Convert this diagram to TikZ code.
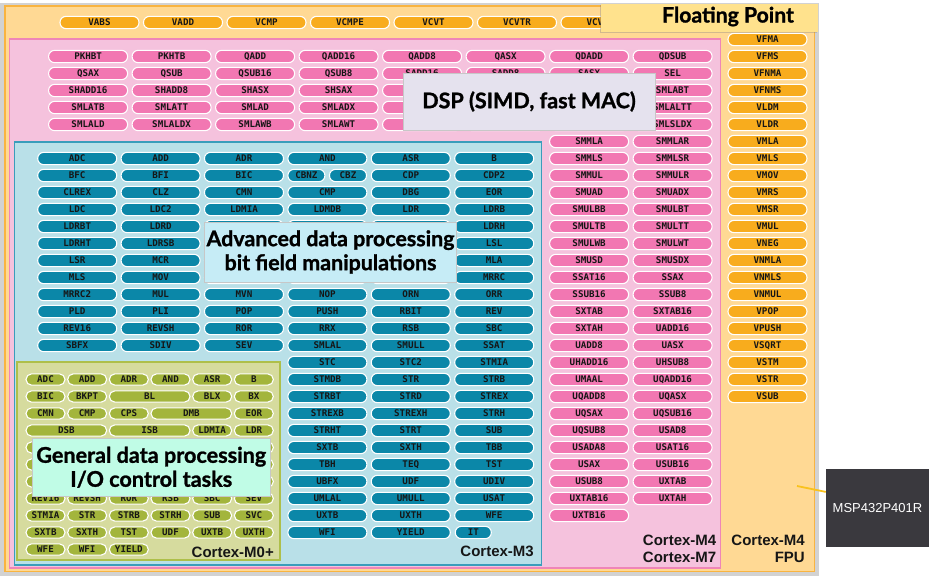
\documentclass[tikz,border=0pt]{standalone}
\usepackage{fontspec}
\setmainfont{Liberation Sans}
\newfontfamily\pillfont{DejaVu Sans Mono}
\newfontfamily\gillfont{Lato}[BoldFeatures={FakeBold=1.2}]
\usetikzlibrary{shadows}
\definecolor{framegray}{HTML}{D2D2D2}
\definecolor{fplight}{HTML}{FFD994}
\definecolor{fpline}{HTML}{F9B440}
\definecolor{opill}{HTML}{F8AC1D}
\definecolor{pinkfill}{HTML}{F5C2DD}
\definecolor{pinkline}{HTML}{EF85B7}
\definecolor{ppill}{HTML}{F277B2}
\definecolor{bluefill}{HTML}{B9E0E8}
\definecolor{blueline}{HTML}{3A9DBB}
\definecolor{bpill}{HTML}{0B87A8}
\definecolor{greenfill}{HTML}{D6DB9E}
\definecolor{greenline}{HTML}{AEBF4A}
\definecolor{gpill}{HTML}{A3B53C}
\definecolor{dspbox}{HTML}{E5E2EE}
\definecolor{advbox}{HTML}{C6ECF6}
\definecolor{genbox}{HTML}{C0FCE6}
\definecolor{fpbox}{HTML}{FFE28D}
\definecolor{mspbox}{HTML}{3A393E}
\definecolor{connc}{HTML}{F9C21E}
\definecolor{pilltext}{HTML}{161616}
\tikzset{
  pill/.style={draw=white, line width=1.1pt, rounded corners=6pt, minimum width=79pt,
    minimum height=12.3pt, inner sep=0pt, text height=6.6pt, text depth=0pt,
    font=\pillfont\bfseries\fontsize{9.2}{9.2}\selectfont, text=pilltext},
  opillst/.style={pill, fill=opill},
  ppillst/.style={pill, fill=ppill},
  bpillst/.style={pill, fill=bpill},
  gpillst/.style={pill, fill=gpill, minimum width=39pt, minimum height=11.3pt, rounded corners=5.6pt},
  regionst/.style={line width=1.5pt},
  labelbox/.style={draw=black!22, line width=0.6pt, inner sep=0pt, align=center,
    font=\gillfont\bfseries, text=black},
  cortexst/.style={font=\bfseries\fontsize{15}{18}\selectfont, inner sep=0pt, text=pilltext},
}
\begin{document}
\begin{tikzpicture}[x=1pt,y=-1pt]
\useasboundingbox (0,0) rectangle (930,576);
% outer frame and floating point region
\fill[framegray] (0,3) rectangle (818.5,576);
\draw[regionst, draw=fpline, fill=fplight] (5,6) rectangle (814.5,571.5);
% DSP region
\draw[regionst, draw=pinkline, fill=pinkfill] (9.5,39) rectangle (720.5,568);
% Cortex-M3 region
\draw[regionst, draw=blueline, fill=bluefill] (14.5,142) rectangle (541.5,565);
% Cortex-M0+ region
\draw[regionst, draw=greenline, fill=greenfill] (17,362) rectangle (280,560);

% top row of FP instructions
\foreach \lab [count=\c from 0] in {VABS,VADD,VCMP,VCMPE,VCVT,VCVTR,VCVTT}
  \node[opillst] (fpt-\c) at ({99.5+83.5*\c},22.5) {\lab};
% FP column
\foreach \lab [count=\k from 0] in {VFMA,VFMS,VFNMA,VFNMS,VLDM,VLDR,VMLA,VMLS,VMOV,VMRS,VMSR,VMUL,VNEG,VNMLA,VNMLS,VNMUL,VPOP,VPUSH,VSQRT,VSTM,VSTR,VSUB}
  \node[opillst] (fpc-\k) at (767.5,{39.5+17*\k}) {\lab};

% DSP block
\foreach \lst [count=\r from 0] in {
  {PKHBT,PKHTB,QADD,QADD16,QADD8,QASX,QDADD,QDSUB},
  {QSAX,QSUB,QSUB16,QSUB8,SADD16,SADD8,SASX,SEL},
  {SHADD16,SHADD8,SHASX,SHSAX,{},{},{},SMLABT},
  {SMLATB,SMLATT,SMLAD,SMLADX,{},{},{},SMLALTT},
  {SMLALD,SMLALDX,SMLAWB,SMLAWT,{},{},{},SMLSLDX}}
  \foreach \lab [count=\c from 0] in \lst
    \node[ppillst] (dsp-\r-\c) at ({88.1+83.5*\c},{56.5+17*\r}) {\lab};
\foreach \a/\b [count=\r from 5] in {SMMLA/SMMLAR,SMMLS/SMMLSR,SMMUL/SMMULR,SMUAD/SMUADX,
  SMULBB/SMULBT,SMULTB/SMULTT,SMULWB/SMULWT,SMUSD/SMUSDX,SSAT16/SSAX,SSUB16/SSUB8,
  SXTAB/SXTAB16,SXTAH/UADD16,UADD8/UASX,UHADD16/UHSUB8,UMAAL/UQADD16,UQADD8/UQASX,
  UQSAX/UQSUB16,UQSUB8/USAD8,USADA8/USAT16,USAX/USUB16,USUB8/UXTAB,UXTAB16/UXTAH} {
  \node[ppillst] (dspa-\r) at (589.1,{56.5+17*\r}) {\a};
  \node[ppillst] (dspb-\r) at (672.6,{56.5+17*\r}) {\b};
}
\node[ppillst] (dspa-27) at (589.1,{56.5+17*27}) {UXTB16};

% Cortex-M3 block
\foreach \lab [count=\c from 0] in {ADC,ADD,ADR,AND,ASR,B}
  \node[bpillst] (m3-6-\c) at ({77.2+83.4*\c},158.5) {\lab};
\node[bpillst] (m3-7-0) at (77.2,175.5) {BFC};
\node[bpillst] (m3-7-1) at (160.6,175.5) {BFI};
\node[bpillst] (m3-7-2) at (244,175.5) {BIC};
\node[bpillst, minimum width=37pt] (m3-cbnz) at (306.4,175.5) {CBNZ};
\node[bpillst, minimum width=37pt] (m3-cbz) at (348,175.5) {CBZ};
\node[bpillst] (m3-7-4) at (410.8,175.5) {CDP};
\node[bpillst] (m3-7-5) at (494.2,175.5) {CDP2};
\foreach \lst [count=\r from 8] in {
  {CLREX,CLZ,CMN,CMP,DBG,EOR},
  {LDC,LDC2,LDMIA,LDMDB,LDR,LDRB},
  {LDRBT,LDRD,{},{},{},LDRH},
  {LDRHT,LDRSB,{},{},{},LSL},
  {LSR,MCR,{},{},{},MLA},
  {MLS,MOV,{},{},{},MRRC},
  {MRRC2,MUL,MVN,NOP,ORN,ORR},
  {PLD,PLI,POP,PUSH,RBIT,REV},
  {REV16,REVSH,ROR,RRX,RSB,SBC},
  {SBFX,SDIV,SEV,SMLAL,SMULL,SSAT}}
  \foreach \lab [count=\c from 0] in \lst
    \node[bpillst] (m3-\r-\c) at ({77.2+83.4*\c},{56.5+17*\r}) {\lab};
\foreach \lst [count=\r from 18] in {
  {STC,STC2,STMIA},{STMDB,STR,STRB},{STRBT,STRD,STREX},{STREXB,STREXH,STRH},
  {STRHT,STRT,SUB},{SXTB,SXTH,TBB},{TBH,TEQ,TST},{UBFX,UDF,UDIV},
  {UMLAL,UMULL,USAT},{UXTB,UXTH,WFE}}
  \foreach \lab [count=\c from 3] in \lst
    \node[bpillst] (m3-\r-\c) at ({77.2+83.4*\c},{56.5+17*\r}) {\lab};
\node[bpillst] (m3-28-3) at (327.4,532.5) {WFI};
\node[bpillst] (m3-28-4) at (410.8,532.5) {YIELD};
\node[bpillst, minimum width=36pt] (m3-it) at (473.3,532.5) {IT};

% Cortex-M0+ block
\foreach \lab [count=\c from 0] in {ADC,ADD,ADR,AND,ASR,B}
  \node[gpillst] (m0-19-\c) at ({45.5+41.67*\c},379.5) {\lab};
\node[gpillst] (m0-bic) at (45.5,396.5) {BIC};
\node[gpillst] (m0-bkpt) at (87.17,396.5) {BKPT};
\node[gpillst, minimum width=80.7pt] (m0-bl) at (149.67,396.5) {BL};
\node[gpillst] (m0-blx) at (212.17,396.5) {BLX};
\node[gpillst] (m0-bx) at (253.83,396.5) {BX};
\node[gpillst] (m0-cmn) at (45.5,413.5) {CMN};
\node[gpillst] (m0-cmp) at (87.17,413.5) {CMP};
\node[gpillst] (m0-cps) at (128.83,413.5) {CPS};
\node[gpillst, minimum width=80.7pt] (m0-dmb) at (191.33,413.5) {DMB};
\node[gpillst] (m0-eor) at (253.83,413.5) {EOR};
\node[gpillst, minimum width=80.7pt] (m0-dsb) at (66.33,430.5) {DSB};
\node[gpillst, minimum width=80.7pt] (m0-isb) at (149.67,430.5) {ISB};
\node[gpillst] (m0-ldmia) at (212.17,430.5) {LDMIA};
\node[gpillst] (m0-ldr) at (253.83,430.5) {LDR};
\foreach \r in {23,24,25}
  \foreach \c in {0,...,5}
    \node[gpillst] (m0-\r-\c) at ({45.5+41.67*\c},{56.5+17*\r}) {};
\foreach \lst [count=\r from 26] in {
  {REV16,REVSH,ROR,RSB,SBC,SEV},{STMIA,STR,STRB,STRH,SUB,SVC},{SXTB,SXTH,TST,UDF,UXTB,UXTH},
  {WFE,WFI,YIELD}}
  \foreach \lab [count=\c from 0] in \lst
    \node[gpillst] (m0-\r-\c) at ({45.5+41.67*\c},{56.5+17*\r}) {\lab};

% label boxes
\node[labelbox, fill=dspbox, minimum width=252pt, minimum height=57pt,
  drop shadow={shadow xshift=1.2pt, shadow yshift=-1.2pt, opacity=0.35},
  font=\gillfont\bfseries\fontsize{21.5}{24}\selectfont] (dsp) at (529,101.5) {DSP (SIMD, fast MAC)};
\node[labelbox, fill=advbox, minimum width=252pt, minimum height=60pt,
  font=\gillfont\bfseries\fontsize{21.4}{24}\selectfont] (adv) at (330.5,252)
  {Advanced data processing\\bit field manipulations};
\node[labelbox, fill=genbox, minimum width=237.5pt, minimum height=57.5pt,
  font=\gillfont\bfseries\fontsize{21.6}{24}\selectfont] (gen) at (151.25,467.25)
  {General data processing\\I/O control tasks};
\node[labelbox, fill=fpbox, draw=none, minimum width=217pt, minimum height=28pt,
  drop shadow={shadow xshift=-1.2pt, shadow yshift=-1.2pt, opacity=0.35}] (fpbox) at (709.5,18) {};
\node[font=\gillfont\bfseries\fontsize{21.2}{22}\selectfont, inner sep=0pt, anchor=base] (fptext) at (728,22.5) {Floating Point};

% core labels
\node[cortexst, anchor=base east] (lm0) at (274,557) {Cortex-M0+};
\node[cortexst, anchor=base east] (lm3) at (534,556) {Cortex-M3};
\node[cortexst, anchor=base east] (lm4a) at (716.5,545) {Cortex-M4};
\node[cortexst, anchor=base east] (lm4b) at (716.5,562.3) {Cortex-M7};
\node[cortexst, anchor=base east] (lfpa) at (805,545) {Cortex-M4};
\node[cortexst, anchor=base east] (lfpb) at (805,562.3) {FPU};

% device box and connector
\node[fill=mspbox, minimum width=103pt, minimum height=77.7pt, inner sep=0pt,
  text=white, font=\fontsize{13}{15}\selectfont] (msp) at (877.5,507.9) {MSP432P401R};
\coordinate (fpanchor) at (797,486);
\draw[connc, line width=1.8pt] (fpanchor) -- ([yshift=16pt]msp.west);
\end{tikzpicture}
\end{document}
